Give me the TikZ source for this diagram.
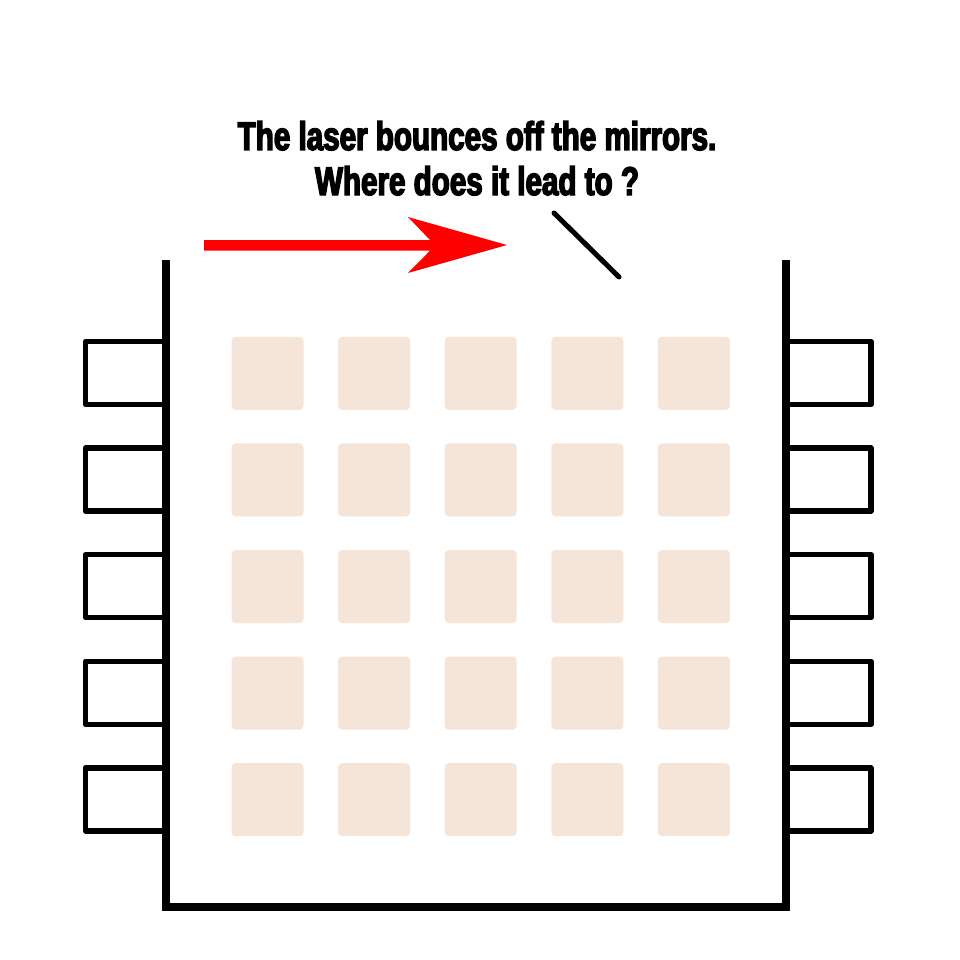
\documentclass[tikz,border=0pt]{standalone}
\usepackage{fontspec}
\newfontfamily\impactish[FakeStretch=0.74,FakeBold=3.5]{Liberation Sans Bold}
\definecolor{tile}{HTML}{F5E4D8}
\definecolor{laser}{HTML}{FF0000}
\tikzset{
  tilebox/.style={fill=tile, draw=none, rounded corners=4pt, minimum width=72pt, minimum height=73pt, inner sep=0pt},
  wall/.style={line width=8pt, draw=black, line join=miter},
  port/.style={line width=5.5pt, draw=black, line join=round},
  headline/.style={font=\impactish\fontsize{40}{40}\selectfont, anchor=base, inner sep=0pt},
  mirror/.style={line width=5pt, line cap=round, draw=black}
}
\begin{document}
\begin{tikzpicture}[x=1pt,y=-1pt]
\useasboundingbox (0,0) rectangle (960,960);
% title
\node[headline] (t1) at (477,150) {The laser bounces off the mirrors.};
\node[headline] (t2) at (477,195) {Where does it lead to ?};
% laser arrow
\fill[laser] (204,240) -- (430,240) -- (408,217) -- (507,245) -- (408,273) -- (430,250.7) -- (204,250.7) -- cycle;
% mirror
\coordinate (m1) at (554,213);
\coordinate (m2) at (619,277);
\draw[mirror] (m1) -- (m2);
% tiles
\foreach \i in {0,...,4}{
  \foreach \j in {0,...,4}{
    \node[tilebox] (tile-\i-\j) at ({267.5+106.6*\i},{373.3+106.6*\j}) {};
  }
}
% ports
\foreach \j in {0,...,4}{
  \draw[port] (166,{341.5+106.6*\j}) -- (85.5,{341.5+106.6*\j}) -- (85.5,{404.5+106.6*\j}) -- (166,{404.5+106.6*\j});
  \draw[port] (786,{341.5+106.6*\j}) -- (871,{341.5+106.6*\j}) -- (871,{404.5+106.6*\j}) -- (786,{404.5+106.6*\j});
}
% walls
\draw[wall] (166,260) -- (166,907) -- (786,907) -- (786,260);
\end{tikzpicture}
\end{document}
